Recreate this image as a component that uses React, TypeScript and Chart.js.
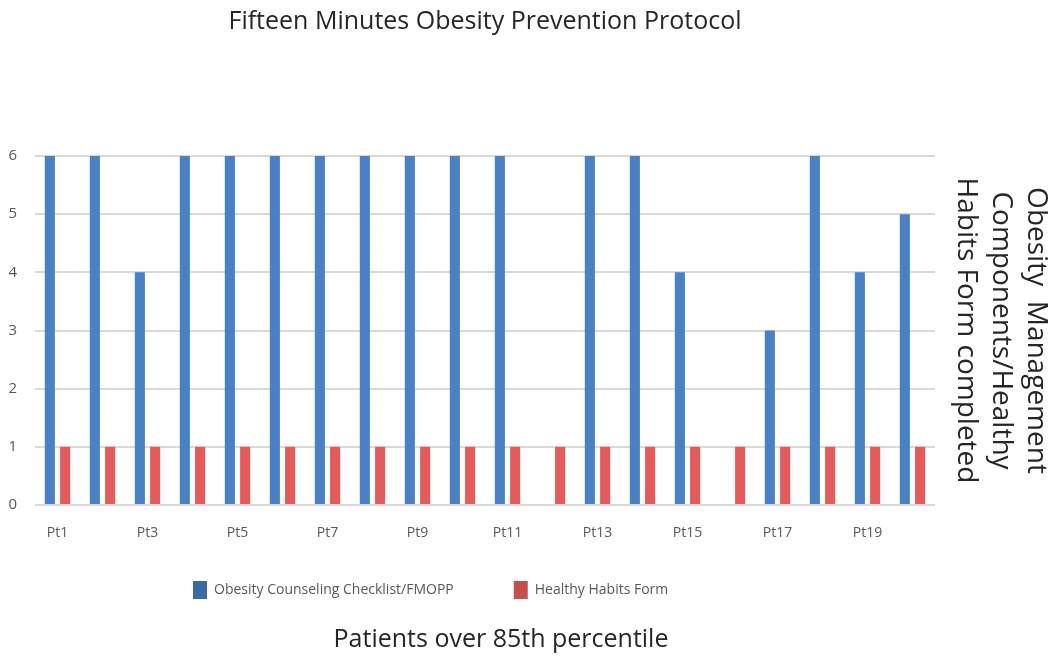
import React, { useEffect, useRef } from "react";
import { Chart, registerables } from "chart.js";

Chart.register(...registerables);

const CHART_TITLE = "Fifteen Minutes Obesity Prevention Protocol";
const X_TITLE = "Patients over 85th percentile";
const Y_TITLE = ["Obesity  Management", "Components/Healthy", "Habits Form completed"];

const categories = [
  "Pt1", "Pt2", "Pt3", "Pt4", "Pt5", "Pt6", "Pt7", "Pt8", "Pt9", "Pt10",
  "Pt11", "Pt12", "Pt13", "Pt14", "Pt15", "Pt16", "Pt17", "Pt18", "Pt19", "Pt20",
];
const seriesNames = ["Obesity Counseling Checklist/FMOPP", "Healthy Habits Form"];
const checklistValues = [6, 6, 4, 6, 6, 6, 6, 6, 6, 6, 6, 0, 6, 6, 4, 0, 3, 6, 4, 5];
const habitsFormValues = [1, 1, 1, 1, 1, 1, 1, 1, 1, 1, 1, 1, 1, 1, 1, 1, 1, 1, 1, 1];
const yTickMin = 0;
const yTickMax = 6;
const yTickStep = 1;

const BAR_COLORS = ["#4a80c4", "#e35b5b"];
const LEGEND_COLORS = ["#3c68a6", "#c4504e"];
const FONT = "'Open Sans', 'DejaVu Sans', sans-serif";

const layoutTweaks = {
  id: "layoutTweaks",
  afterLayout(chart: any) {
    const lg = chart.legend;
    if (lg) {
      const w = lg.right - lg.left;
      lg.left = 133;
      lg.right = 133 + w;
      lg.top -= 20;
      lg.bottom -= 20;
    }
    for (const box of chart.boxes) {
      if (box && box.options && box.options.text === X_TITLE) {
        box.left += 16;
        box.right += 16;
      }
    }
  },
};

export default function App() {
  const canvasRef = useRef<HTMLCanvasElement | null>(null);

  useEffect(() => {
    if (!canvasRef.current) return;
    const defaultGen = (Chart.defaults as any).plugins.legend.labels.generateLabels;
    const chart = new Chart(canvasRef.current, {
      type: "bar",
      data: {
        labels: categories,
        datasets: [
          {
            label: seriesNames[0],
            data: checklistValues,
            backgroundColor: BAR_COLORS[0],
            categoryPercentage: 0.68,
            barPercentage: 0.66,
          },
          {
            label: seriesNames[1],
            data: habitsFormValues,
            backgroundColor: BAR_COLORS[1],
            categoryPercentage: 0.68,
            barPercentage: 0.66,
          },
        ],
      },
      options: {
        animation: false,
        responsive: true,
        maintainAspectRatio: false,
        layout: { padding: 0 },
        plugins: {
          tooltip: { enabled: false },
          title: {
            display: true,
            text: CHART_TITLE,
            fullSize: false,
            color: "#262626",
            font: { family: FONT, size: 25, weight: "normal" },
            padding: { top: 7, bottom: 119 },
          },
          subtitle: {
            display: true,
            position: "bottom",
            text: X_TITLE,
            fullSize: false,
            color: "#262626",
            font: { family: FONT, size: 25, weight: "normal" },
            padding: { top: -4, bottom: 2 },
          },
          legend: {
            position: "bottom",
            align: "start",
            labels: {
              boxWidth: 14,
              boxHeight: 18,
              padding: 60,
              color: "#595959",
              font: { family: FONT, size: 14 },
              generateLabels: (c: any) =>
                defaultGen(c).map((l: any, i: number) => ({
                  ...l,
                  fillStyle: LEGEND_COLORS[i],
                  strokeStyle: LEGEND_COLORS[i],
                  lineWidth: 0,
                })),
            },
          },
        },
        scales: {
          x: {
            grid: { display: false },
            border: { display: false },
            ticks: {
              color: "#595959",
              font: { family: FONT, size: 14 },
              padding: 12,
              autoSkip: false,
              maxRotation: 0,
              callback: (_v: any, i: number) => (i % 2 === 0 ? categories[i] : ""),
            },
            afterFit: (s: any) => {
              s.height = 36;
            },
          },
          y: {
            min: yTickMin,
            max: yTickMax,
            position: "left",
            grid: { color: "#d9d9d9", lineWidth: 2, drawTicks: false },
            border: { display: false },
            ticks: {
              stepSize: yTickStep,
              color: "#595959",
              font: { family: FONT, size: 15 },
              padding: 18,
            },
            afterFit: (s: any) => {
              s.width = 35;
            },
          },
          y2: {
            position: "right",
            min: yTickMin,
            max: yTickMax,
            grid: { display: false },
            border: { display: false },
            ticks: { display: false },
            title: {
              display: true,
              text: Y_TITLE,
              color: "#262626",
              font: { family: FONT, size: 28, lineHeight: 1.25 },
              padding: { top: -5.5, bottom: 0 },
            },
            afterFit: (s: any) => {
              s.width = 113;
            },
          },
        },
      } as any,
      plugins: [layoutTweaks],
    });
    return () => chart.destroy();
  }, []);

  return (
    <div
      style={{
        position: "fixed",
        left: 0,
        top: 0,
        width: 1048,
        height: 657,
        background: "#ffffff",
      }}
    >
      <canvas ref={canvasRef} />
    </div>
  );
}
